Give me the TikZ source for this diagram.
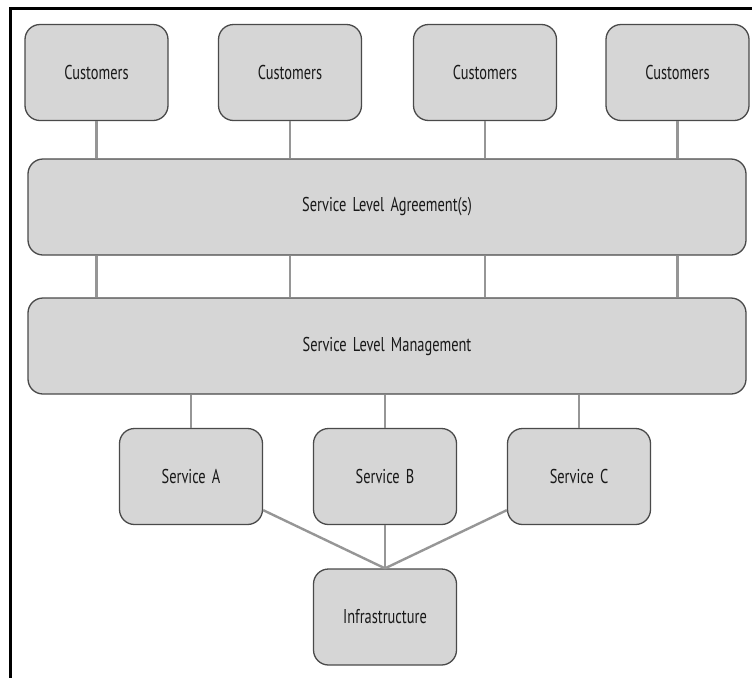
\documentclass[tikz,border=0pt]{standalone}
\usepackage{fontspec}
\setmainfont{PT Sans}[FakeStretch=0.72,WordSpace=1.6]
\usepackage{tikz}

\begin{document}
\begin{tikzpicture}[x=1pt,y=1pt,yscale=-1,xscale=1,
  box/.style={draw={rgb,255:red,74;green,74;blue,74}, line width=1.3pt, fill={rgb,255:red,214;green,214;blue,214}, rounded corners=15pt, inner sep=0pt, text={rgb,255:red,25;green,25;blue,25}, font=\fontsize{20}{24}\selectfont},
  small/.style={box, minimum width=143pt, minimum height=96pt},
  wide/.style={box, minimum width=718pt, minimum height=96pt},
  link/.style={draw={rgb,255:red,150;green,150;blue,150}, line width=2.4pt}]
\path[use as bounding box] (0,0) rectangle (752,678);

%Shape: Frame
\draw [line width=3pt] (9,8.5) -- (752,8.5) ;
\draw [line width=3pt] (10.5,7) -- (10.5,678) ;

% Customers
\node [small] (c1) at (96.5,72.5) {Customers};
\node [small] (c2) at (290,72.5) {Customers};
\node [small] (c3) at (485,72.5) {Customers};
\node [small] (c4) at (677.5,72.5) {Customers};

% Service level boxes
\node [wide] (sla) at (387,207) {Service Level Agreement(s)};
\node [wide] (slm) at (387,346) {Service Level Management};

% Services
\node [small] (sa) at (191,476.5) {Service A};
\node [small] (sb) at (385,476.5) {Service B};
\node [small] (sc) at (579,476.5) {Service C};
\node [small] (inf) at (385,617) {Infrastructure};

% Links
\foreach \c in {c1,c2,c3,c4} {
  \path [link] (\c.south) -- (\c.south |- sla.north) ;
  \path [link] (\c.south |- sla.south) -- (\c.south |- slm.north) ;
}
\foreach \s in {sa,sb,sc}
  \path [link] (\s.north) -- (\s.north |- slm.south) ;
\path [link] (sa.-25) -- (inf.north) ;
\path [link] (sb.south) -- (inf.north) ;
\path [link] (sc.205) -- (inf.north) ;

\end{tikzpicture}
\end{document}
